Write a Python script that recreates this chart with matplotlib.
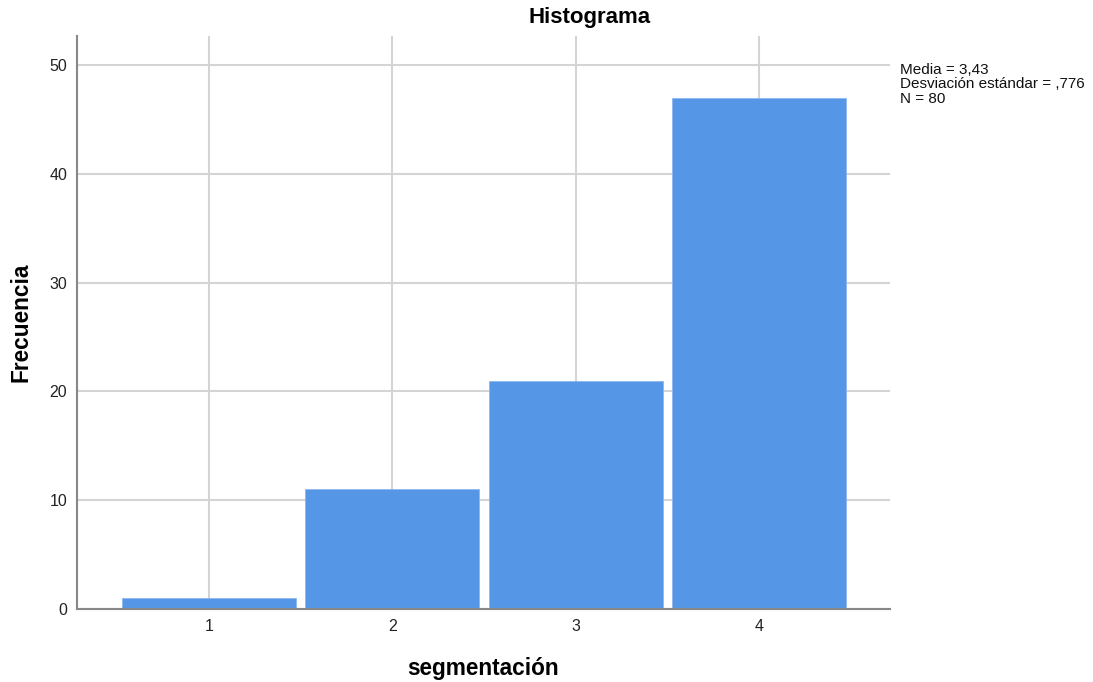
import numpy as np
import matplotlib.pyplot as plt

plt.rcParams['font.family'] = ['Liberation Sans', 'DejaVu Sans']

# Datos
valores = [1, 2, 3, 4]
frecuencias = [1, 11, 21, 47]
yticks = [0, 10, 20, 30, 40, 50]
etiqueta = "Media = 3,43\nDesviación estándar = ,776\nN = 80"

fig = plt.figure(figsize=(10.93, 6.82), dpi=100)
ax = fig.add_axes([0.0704, 0.107, 0.7439, 0.840])

ax.bar(valores, frecuencias, width=0.95, color='#5596E6',
       edgecolor='#8FB8EE', linewidth=0.6, zorder=3)

ax.set_xlim(0.28, 4.715)
ax.set_ylim(0, 52.66)
ax.set_xticks(valores)
ax.set_yticks(yticks)
ax.tick_params(length=0, labelsize=11.5, colors='#222222', pad=7)
ax.grid(True, color='#d4d4d4', linewidth=1.5, zorder=0)
for s in ['top', 'right']:
    ax.spines[s].set_visible(False)
for s in ['left', 'bottom']:
    ax.spines[s].set_color('#888888')
    ax.spines[s].set_linewidth(1.5)
    ax.spines[s].set_zorder(4)

fig.text(590 / 1093, 1 - 18 / 682, "Histograma", fontsize=16, fontweight='bold',
         ha='center', va='center')
ax.set_xlabel("segmentación", fontsize=16.3, fontweight='bold', labelpad=17)
ax.set_ylabel("Frecuencia", fontsize=16.3, fontweight='bold', labelpad=12)

fig.text(0.823, 0.908, etiqueta, fontsize=11, va='top', ha='left',
         linespacing=1.05, color='#111111')

plt.savefig('out.png', dpi=100)
